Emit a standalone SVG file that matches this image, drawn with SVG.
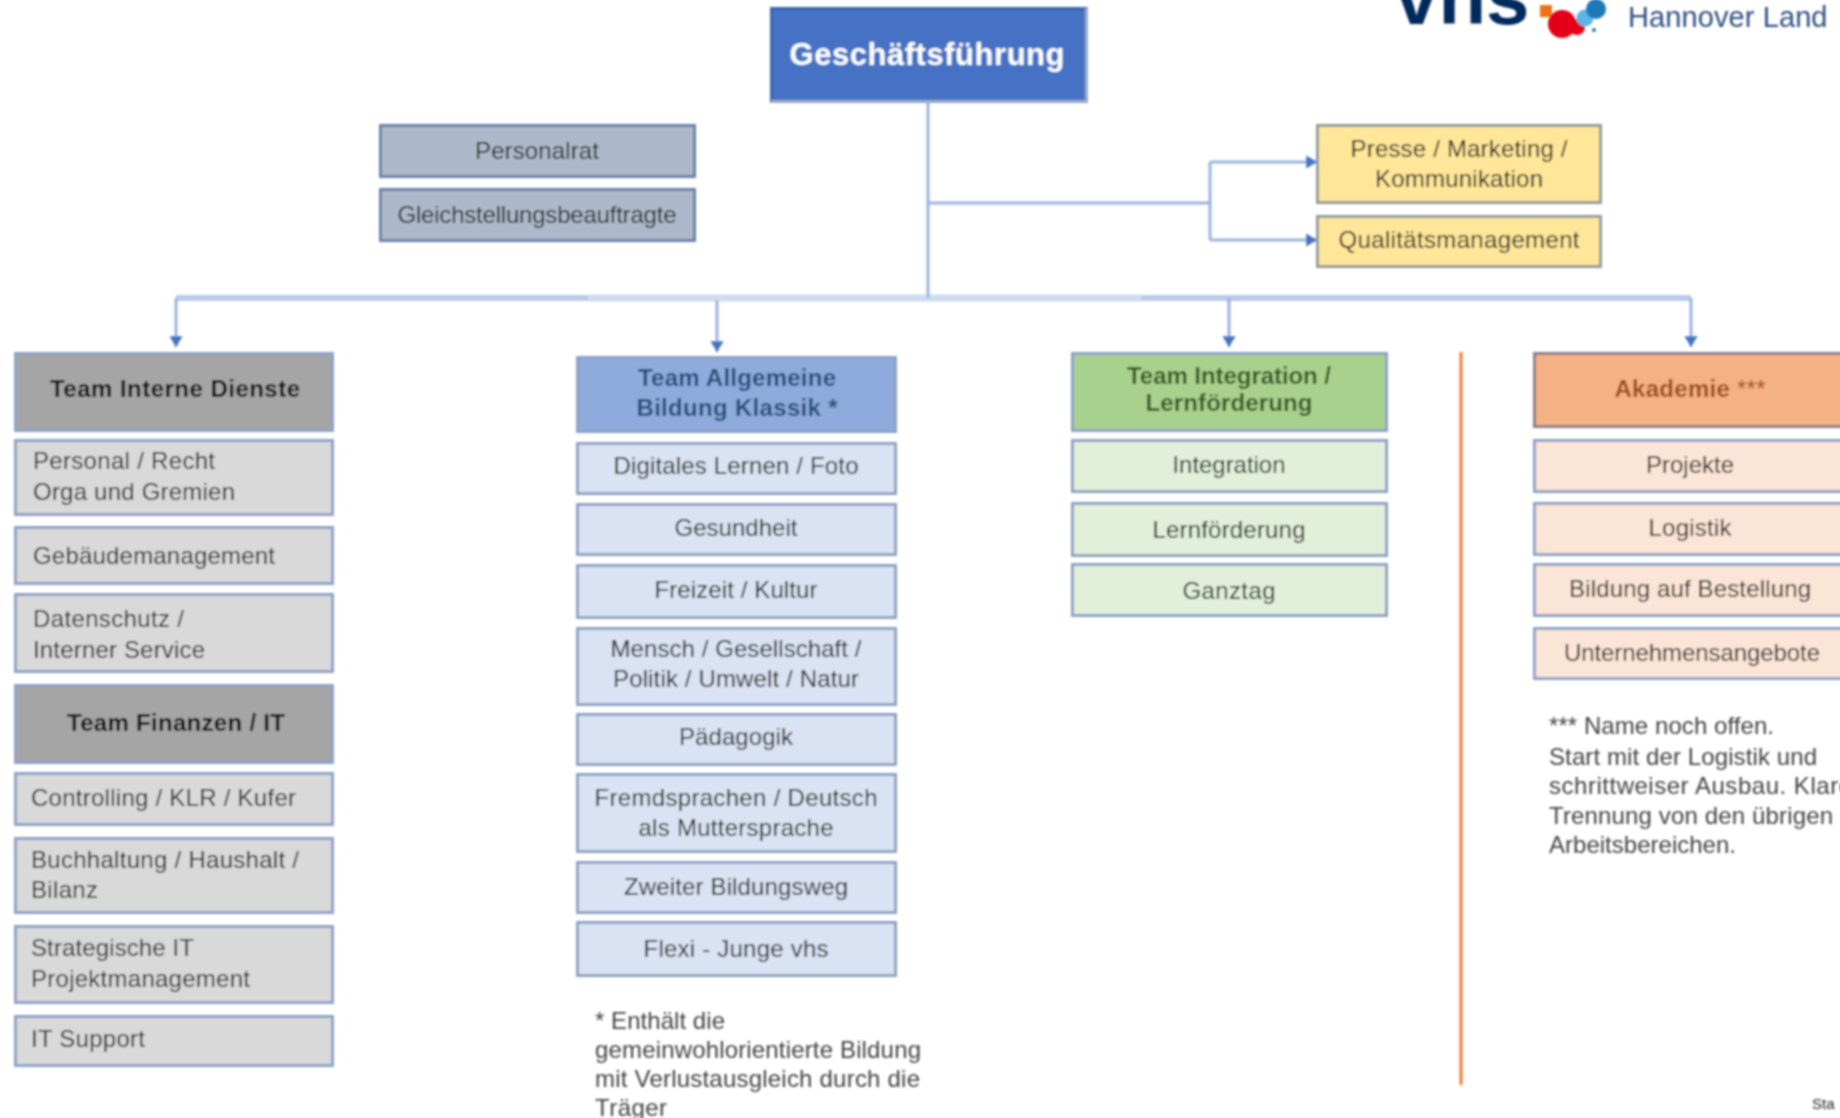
<svg xmlns="http://www.w3.org/2000/svg" width="1840" height="1118" viewBox="0 0 1840 1118">
<defs>
<filter id="soft" x="0" y="0" width="1840" height="1118" filterUnits="userSpaceOnUse"><feGaussianBlur stdDeviation="0.8"/></filter>
<marker id="arr" markerWidth="4" markerHeight="5" refX="3.6" refY="2.5" orient="auto" markerUnits="strokeWidth"><path d="M0,0.3 L3.6,2.5 L0,4.7 Z" fill="#4472C4"/></marker>
</defs>
<style>
text{font-family:"Liberation Sans",Arial,sans-serif;font-size:24px;fill:#222}
.c{text-anchor:middle}
.b{font-weight:bold}
.k{fill:#000}
rect{stroke-width:3;stroke:#8EA3C6}
.grayh{fill:#A5A5A5}.gray{fill:#D9D9D9}
.blueh{fill:#8FAADC}.blue{fill:#DAE3F3}
.greenh{fill:#A9D18E}.green{fill:#E2F0D9}
.orangeh{fill:#F4B183;stroke:#8E7F8C}.orange{fill:#FBE5D6}
.yellow{fill:#FFE699;stroke:#939C9C}
.slate{fill:#ADB9CA;stroke:#6A82AB}
.conn{fill:none;stroke:#9AB3DF;stroke-width:3}
.bus{fill:none;stroke:#B9CBE9;stroke-width:6}
</style>
<rect x="0" y="0" width="1840" height="1118" style="fill:#fff;stroke:none"/>
<g filter="url(#soft)">
<g id="connectors">
<path class="bus" d="M176,298 H1691"/>
<path d="M588,298 H1141" fill="none" stroke="#D0DCF0" stroke-width="7"/>
<path class="conn" d="M928,103 V298"/>
<path class="conn" d="M928,203 H1210"/>
<path class="conn" d="M1210,162 V240"/>
<path class="conn" d="M1210,162 H1317" marker-end="url(#arr)"/>
<path class="conn" d="M1210,240 H1317" marker-end="url(#arr)"/>
<path class="conn" d="M176,298 V347" marker-end="url(#arr)"/>
<path class="conn" d="M717,300 V352" marker-end="url(#arr)"/>
<path class="conn" d="M1229,298 V347" marker-end="url(#arr)"/>
<path class="conn" d="M1691,298 V347" marker-end="url(#arr)"/>
</g>
<g id="divider"><path d="M1461,352 V1085" stroke="#ED7D31" stroke-width="3" fill="none"/></g>
<g id="logo">
<text x="1395" y="24" style="font-size:78px;font-weight:bold;fill:#002A5C">vhs</text>
<rect x="1540" y="5" width="12" height="12" style="fill:#EE7212;stroke:none"/>
<circle cx="1562" cy="24" r="14" fill="#E30613"/><circle cx="1577" cy="27" r="8" fill="#E30613"/>
<circle cx="1585" cy="18" r="8.500" fill="#5BB5E6"/><circle cx="1596" cy="9" r="10" fill="#1D78B8"/><circle cx="1594" cy="30" r="2" fill="#1D78B8"/>
<text x="1628" y="27" textLength="199.500" style="font-size:29px;fill:#2F5080">Hannover Land</text>
</g>
<g id="gf"><rect x="771.500" y="8.500" width="315" height="93" style="fill:#4472C4;stroke:#3F65AC"/><path d="M1086.500,8 V101.500 H771" fill="none" stroke="#9AA9C8" stroke-width="3"/><text x="927" y="65" textLength="275" class="c b" style="font-size:31px;fill:#fff">Geschäftsführung</text></g>
<g id="personalrat"><rect class="slate" x="380.500" y="125.500" width="314" height="51"/><text x="537" y="159" textLength="124" class="c">Personalrat</text></g>
<g id="gleich"><rect class="slate" x="380.500" y="189.500" width="314" height="51"/><text x="537" y="223" textLength="279" class="c">Gleichstellungsbeauftragte</text></g>
<g id="presse"><rect class="yellow" x="1317.500" y="125.500" width="283" height="77"/><text x="1459" y="157" textLength="217" class="c">Presse / Marketing /</text><text x="1459" y="187" textLength="168" class="c">Kommunikation</text></g>
<g id="qm"><rect class="yellow" x="1317.500" y="216.500" width="283" height="50"/><text x="1459" y="248" textLength="241" class="c">Qualitätsmanagement</text></g>

<g id="team-interne"><rect class="grayh" x="15.500" y="353.500" width="317" height="77"/><text x="175" y="397" textLength="250" class="c b k">Team Interne Dienste</text></g>
<g id="personal"><rect class="gray" x="15.500" y="440.500" width="317" height="74"/><text x="33" y="469" textLength="182">Personal / Recht</text><text x="33" y="500" textLength="202">Orga und Gremien</text></g>
<g id="gebaeude"><rect class="gray" x="15.500" y="527.500" width="317" height="56"/><text x="33" y="564" textLength="242">Gebäudemanagement</text></g>
<g id="datenschutz"><rect class="gray" x="15.500" y="594.500" width="317" height="77"/><text x="33" y="627" textLength="151">Datenschutz /</text><text x="33" y="658" textLength="172">Interner Service</text></g>
<g id="team-finanzen"><rect class="grayh" x="15.500" y="685.500" width="317" height="77"/><text x="176" y="731" textLength="218" class="c b k">Team Finanzen / IT</text></g>
<g id="controlling"><rect class="gray" x="15.500" y="773.500" width="317" height="51"/><text x="31" y="806" textLength="265">Controlling / KLR / Kufer</text></g>
<g id="buchhaltung"><rect class="gray" x="15.500" y="838.500" width="317" height="74"/><text x="31" y="868" textLength="268">Buchhaltung / Haushalt /</text><text x="31" y="898" textLength="67">Bilanz</text></g>
<g id="strategische"><rect class="gray" x="15.500" y="926.500" width="317" height="76"/><text x="31" y="956" textLength="163">Strategische IT</text><text x="31" y="987" textLength="219">Projektmanagement</text></g>
<g id="it-support"><rect class="gray" x="15.500" y="1016.500" width="317" height="49"/><text x="31" y="1047" textLength="114">IT Support</text></g>

<g id="team-allg"><rect class="blueh" x="577.500" y="357.500" width="318" height="74"/><text x="737" y="386" textLength="198" class="c b" style="fill:#1F4E79">Team Allgemeine</text><text x="737" y="416" textLength="201" class="c b" style="fill:#1F4E79">Bildung Klassik *</text></g>
<g id="digitales"><rect class="blue" x="577.500" y="443.500" width="318" height="50"/><text x="736" y="474" textLength="245" class="c">Digitales Lernen / Foto</text></g>
<g id="gesundheit"><rect class="blue" x="577.500" y="504.500" width="318" height="50"/><text x="736" y="536" textLength="123" class="c">Gesundheit</text></g>
<g id="freizeit"><rect class="blue" x="577.500" y="565.500" width="318" height="52"/><text x="736" y="598" textLength="163" class="c">Freizeit / Kultur</text></g>
<g id="mensch"><rect class="blue" x="577.500" y="628.500" width="318" height="76"/><text x="736" y="657" textLength="251" class="c">Mensch / Gesellschaft /</text><text x="736" y="687" textLength="246" class="c">Politik / Umwelt / Natur</text></g>
<g id="paedagogik"><rect class="blue" x="577.500" y="714.500" width="318" height="50"/><text x="736" y="745" textLength="114" class="c">Pädagogik</text></g>
<g id="fremd"><rect class="blue" x="577.500" y="774.500" width="318" height="77"/><text x="736" y="806" textLength="283" class="c">Fremdsprachen / Deutsch</text><text x="736" y="836" textLength="195" class="c">als Muttersprache</text></g>
<g id="zweiter"><rect class="blue" x="577.500" y="862.500" width="318" height="50"/><text x="736" y="895" textLength="224" class="c">Zweiter Bildungsweg</text></g>
<g id="flexi"><rect class="blue" x="577.500" y="922.500" width="318" height="53"/><text x="736" y="957" textLength="185" class="c">Flexi - Junge vhs</text></g>
<g id="note-klassik"><text x="595" y="1029" textLength="130" style="fill:#444">* Enthält die</text><text x="595" y="1058" textLength="326" style="fill:#444">gemeinwohlorientierte Bildung</text><text x="595" y="1087" textLength="325" style="fill:#444">mit Verlustausgleich durch die</text><text x="595" y="1116" textLength="72" style="fill:#444">Träger</text></g>

<g id="team-integration"><rect class="greenh" x="1072.500" y="353.500" width="314" height="77"/><text x="1229" y="384" textLength="204" class="c b" style="fill:#385723">Team Integration /</text><text x="1229" y="411" textLength="167" class="c b" style="fill:#385723">Lernförderung</text></g>
<g id="integration"><rect class="green" x="1072.500" y="440.500" width="314" height="51"/><text x="1229" y="473" textLength="113" class="c">Integration</text></g>
<g id="lernfoerderung"><rect class="green" x="1072.500" y="503.500" width="314" height="52"/><text x="1229" y="538" textLength="153" class="c">Lernförderung</text></g>
<g id="ganztag"><rect class="green" x="1072.500" y="564.500" width="314" height="51"/><text x="1229" y="599" textLength="93" class="c">Ganztag</text></g>

<g id="akademie"><rect class="orangeh" x="1534.500" y="353.500" width="320" height="73"/><text x="1690" y="397" textLength="151" class="c b" style="fill:#9C4A12">Akademie <tspan style="font-weight:normal">***</tspan></text></g>
<g id="projekte"><rect class="orange" x="1534.500" y="440.500" width="320" height="51"/><text x="1690" y="473" textLength="88" class="c">Projekte</text></g>
<g id="logistik"><rect class="orange" x="1534.500" y="503.500" width="320" height="51"/><text x="1690" y="536" textLength="83" class="c">Logistik</text></g>
<g id="bildung-bestellung"><rect class="orange" x="1534.500" y="564.500" width="320" height="51"/><text x="1690" y="597" textLength="242" class="c">Bildung auf Bestellung</text></g>
<g id="unternehmen"><rect class="orange" x="1534.500" y="628.500" width="320" height="50"/><text x="1692" y="661" textLength="256" class="c">Unternehmensangebote</text></g>
<g id="note-akademie"><text x="1549" y="734" textLength="225" style="fill:#444">*** Name noch offen.</text><text x="1549" y="765" textLength="268" style="fill:#444">Start mit der Logistik und</text><text x="1549" y="794" textLength="303" style="fill:#444">schrittweiser Ausbau. Klare</text><text x="1549" y="824" textLength="284" style="fill:#444">Trennung von den übrigen</text><text x="1549" y="853" textLength="187" style="fill:#444">Arbeitsbereichen.</text></g>
<g id="stand"><text x="1812" y="1109" style="font-size:15px">Sta</text></g>
</g>
</svg>
